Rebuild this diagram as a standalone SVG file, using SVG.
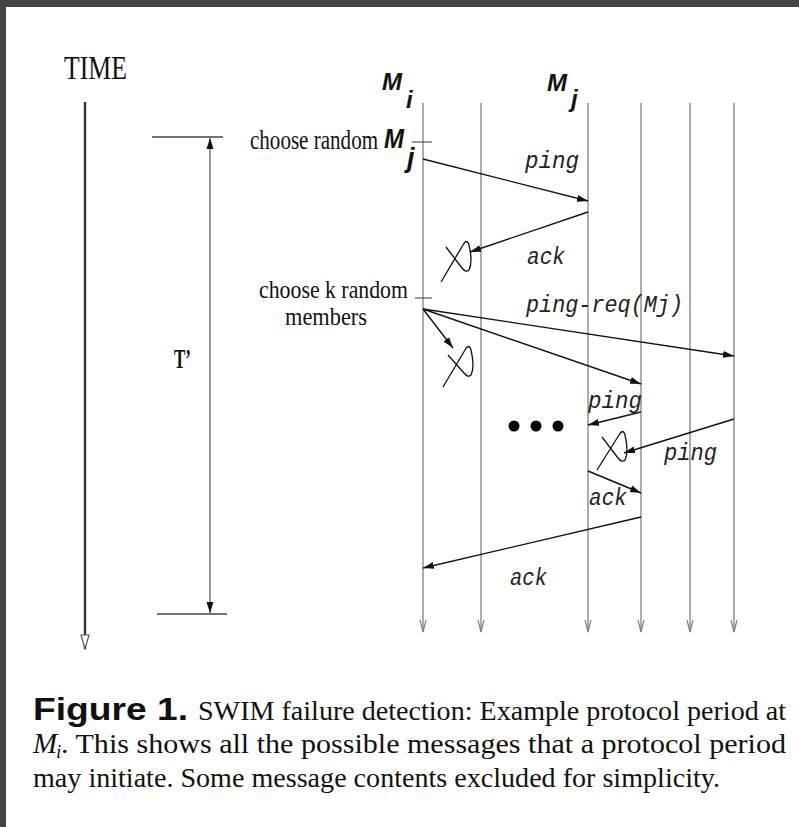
<svg xmlns="http://www.w3.org/2000/svg" width="799" height="827" viewBox="0 0 799 827">
<style>
.serif{font-family:"Liberation Serif","Times New Roman",serif;fill:#111}
.mono{font-family:"Liberation Mono","Courier New",monospace;font-style:italic;fill:#222}
.bi{font-family:"Liberation Sans",Arial,sans-serif;font-weight:bold;font-style:italic;fill:#111}
.life{stroke:#808080;stroke-width:1.3;fill:none}
.msg{stroke:#111;stroke-width:1.4;fill:none}
.lost{stroke:#111;stroke-width:1.3;fill:none;stroke-linejoin:round}
.tick{stroke:#555;stroke-width:1.2}
</style>
<defs>
<marker id="arr" markerUnits="userSpaceOnUse" markerWidth="11" markerHeight="8" refX="11" refY="4" orient="auto"><path d="M0,0.5 L11,4 L0,7.5 z" fill="#111"/></marker>
<marker id="vee" markerUnits="userSpaceOnUse" markerWidth="13" markerHeight="8" refX="12" refY="4" orient="auto"><path d="M0,1 L12,4 L0,7" fill="none" stroke="#808080" stroke-width="1.2"/></marker>
<marker id="tri" markerUnits="userSpaceOnUse" markerWidth="16" markerHeight="10" refX="15" refY="5" orient="auto"><path d="M1,1 L15,5 L1,9 z" fill="#fff" stroke="#555" stroke-width="1.2"/></marker>
</defs>
<rect x="0" y="0" width="799" height="827" fill="#fff"/>
<rect x="0" y="0" width="799" height="7" fill="#444"/>
<rect x="0" y="0" width="6" height="827" fill="#444"/>

<g id="time-axis">
<text class="serif" x="64" y="79" font-size="34" textLength="63" lengthAdjust="spacingAndGlyphs">TIME</text>
<line x1="85" y1="102" x2="85" y2="649" stroke="#333" stroke-width="2.4" marker-end="url(#tri)"/>
</g>

<g id="period-bracket">
<line x1="152" y1="137" x2="223" y2="137" stroke="#444" stroke-width="1.5"/>
<line x1="157" y1="614" x2="227" y2="614" stroke="#444" stroke-width="1.5"/>
<line x1="210" y1="376" x2="210" y2="138" stroke="#555" stroke-width="1.2" marker-end="url(#arr)"/>
<line x1="210" y1="376" x2="210" y2="613" stroke="#555" stroke-width="1.2" marker-end="url(#arr)"/>
<text class="serif" x="174" y="368" font-size="28" font-weight="bold" textLength="17" lengthAdjust="spacingAndGlyphs">T’</text>
</g>

<g id="lifelines">
<line id="life-Mi" class="life" x1="423" y1="103" x2="423" y2="632" marker-end="url(#vee)"/>
<line id="life-2" class="life" x1="481" y1="103" x2="481" y2="632" marker-end="url(#vee)"/>
<line id="life-Mj" class="life" x1="588" y1="103" x2="588" y2="632" marker-end="url(#vee)"/>
<line id="life-4" class="life" x1="641" y1="103" x2="641" y2="632" marker-end="url(#vee)"/>
<line id="life-5" class="life" x1="690" y1="103" x2="690" y2="632" marker-end="url(#vee)"/>
<line id="life-6" class="life" x1="734" y1="103" x2="734" y2="632" marker-end="url(#vee)"/>
</g>

<g id="node-Mi">
<text class="bi" x="382" y="90" font-size="24">M</text>
<text class="bi" x="406" y="108" font-size="24">i</text>
</g>
<g id="node-Mj">
<text class="bi" x="547" y="91" font-size="24">M</text>
<text class="bi" x="571" y="107" font-size="24">j</text>
</g>

<g id="note-choose-random">
<text class="serif" transform="translate(250,149) scale(0.78,1)" x="0" y="0" font-size="27">choose random</text>
<text class="bi" x="384" y="148" font-size="27" textLength="20" lengthAdjust="spacingAndGlyphs">M</text>
<text class="bi" x="407" y="167" font-size="27">j</text>
<line class="tick" x1="412" y1="142" x2="432" y2="142"/>
</g>

<g id="note-choose-k">
<text class="serif" x="259" y="298" font-size="25" textLength="149" lengthAdjust="spacingAndGlyphs">choose k random</text>
<text class="serif" x="285" y="325" font-size="25" textLength="82" lengthAdjust="spacingAndGlyphs">members</text>
<line class="tick" x1="415" y1="298" x2="432" y2="298"/>
</g>

<g id="lost-marks">
<path class="lost" d="M441,282 L463,245 Q467,238 469,245 Q473,262 469,270 Q466,273 462,268 L446,247"/>
<path class="lost" d="M443,387 L465,350 Q469,343 471,350 Q475,367 471,375 Q468,378 464,373 L448,355"/>
<path class="lost" d="M597,470 L619,435 Q623,428 625,435 Q629,452 625,460 Q622,463 618,458 L602,437"/>
</g>

<g id="connectors">
<line class="msg" x1="423" y1="159" x2="588" y2="201" marker-end="url(#arr)"/>
<line class="msg" x1="588" y1="212" x2="470" y2="252" marker-end="url(#arr)"/>
<line class="msg" x1="423" y1="309" x2="734" y2="356" marker-end="url(#arr)"/>
<line class="msg" x1="423" y1="309" x2="641" y2="384" marker-end="url(#arr)"/>
<line class="msg" x1="423" y1="309" x2="453" y2="348" marker-end="url(#arr)"/>
<line class="msg" x1="641" y1="412" x2="588" y2="425" marker-end="url(#arr)"/>
<line class="msg" x1="734" y1="419" x2="624" y2="453" marker-end="url(#arr)"/>
<line class="msg" x1="588" y1="471" x2="641" y2="493" marker-end="url(#arr)"/>
<line class="msg" x1="641" y1="517" x2="423" y2="568" marker-end="url(#arr)"/>
</g>

<g id="labels">
<text class="mono" x="525" y="168" font-size="24" textLength="54" lengthAdjust="spacingAndGlyphs">ping</text>
<text class="mono" x="527" y="264" font-size="24" textLength="38" lengthAdjust="spacingAndGlyphs">ack</text>
<text class="mono" x="526" y="312" font-size="24" textLength="157" lengthAdjust="spacingAndGlyphs">ping-req(Mj)</text>
<text class="mono" x="588" y="408" font-size="24" textLength="54" lengthAdjust="spacingAndGlyphs">ping</text>
<text class="mono" x="664" y="460" font-size="24" textLength="53" lengthAdjust="spacingAndGlyphs">ping</text>
<text class="mono" x="589" y="505" font-size="24" textLength="38" lengthAdjust="spacingAndGlyphs">ack</text>
<text class="mono" x="510" y="585" font-size="24" textLength="37" lengthAdjust="spacingAndGlyphs">ack</text>
</g>

<g id="ellipsis" fill="#000">
<circle cx="514" cy="426" r="5.5"/>
<circle cx="536" cy="426" r="5.5"/>
<circle cx="558" cy="426" r="5.5"/>
</g>

<g id="caption">
<text x="33" y="720" font-family="Liberation Sans, Arial, sans-serif" font-weight="bold" font-size="32" fill="#111" textLength="155" lengthAdjust="spacingAndGlyphs">Figure 1.</text>
<text class="serif" x="198" y="720" font-size="28" textLength="588" lengthAdjust="spacingAndGlyphs">SWIM failure detection: Example protocol period at</text>
<text class="serif" x="33" y="753" font-size="29" font-style="italic">M</text>
<text class="serif" x="56" y="758" font-size="19" font-style="italic">i</text>
<text class="serif" x="61" y="753" font-size="28" textLength="725" lengthAdjust="spacingAndGlyphs">. This shows all the possible messages that a protocol period</text>
<text class="serif" x="33" y="787" font-size="28" textLength="687" lengthAdjust="spacingAndGlyphs">may initiate. Some message contents excluded for simplicity.</text>
</g>
</svg>
